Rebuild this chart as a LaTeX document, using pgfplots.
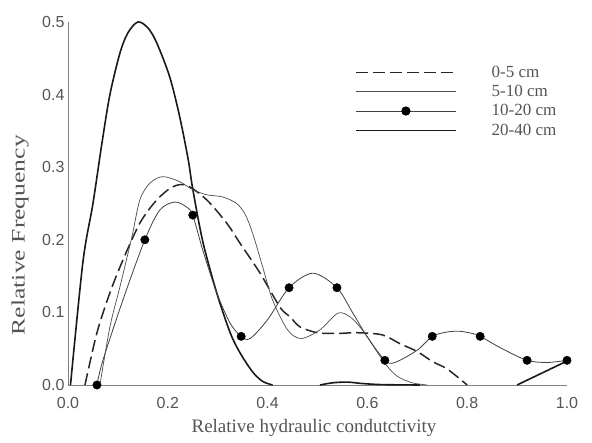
\documentclass[border=0pt]{standalone}
\usepackage{pgfplots}
\pgfplotsset{compat=1.18}
\usepackage{fontspec}
\setmainfont{Liberation Serif}
\newfontfamily\tickfont{Liberation Sans}
\usepackage{graphicx}
\definecolor{txtgray}{HTML}{555555}
\begin{document}
\begin{tikzpicture}
\useasboundingbox (-68pt,-58pt) rectangle (524pt,385pt);
\begin{axis}[
  scale only axis, width=499pt, height=363pt,
  xmin=0, xmax=1, ymin=0, ymax=0.5,
  axis x line=bottom, axis y line=left,
  axis line style={-, draw=gray, line width=0.8pt},
  major tick length=0pt,
  xtick={0,0.2,0.4,0.6,0.8,1.0}, xticklabels={0.0,0.2,0.4,0.6,0.8,1.0},
  ytick={0,0.1,0.2,0.3,0.4,0.5}, yticklabels={0.0,0.1,0.2,0.3,0.4,0.5},
  xticklabel style={font=\tickfont\fontsize{16}{16}\selectfont, text=txtgray, anchor=center, yshift=-18pt},
  yticklabel style={font=\tickfont\fontsize{16}{16}\selectfont, text=txtgray},
  every axis x label/.style={at={(axis description cs:0.493,-0.118)}, anchor=center},
  every axis y label/.style={at={(axis description cs:-0.096,0.413)}, rotate=90, anchor=center},
  xlabel={Relative hydraulic condutctivity},
  ylabel={\scalebox{1.35}[1]{Relative Frequency}},
  label style={font=\fontsize{19}{19}\selectfont, text=txtgray},
  clip=false,
  legend style={at={(axis cs:0.575,0.441)}, anchor=north west, draw=none, fill=none, inner sep=0pt,
    font=\fontsize{17}{17}\selectfont, text=txtgray, row sep=4.5pt, column sep=34pt,
    nodes={inner sep=1pt}},
  legend cell align=left,
  legend image code/.code={\draw[mark repeat=2,mark phase=2,#1] plot coordinates {(0pt,0pt)(50pt,0pt)(100pt,0pt)};},
]
\addlegendimage{black!85, line width=1.5pt, dash pattern=on 12pt off 5pt}
\addlegendentry{0-5 cm}
\addlegendimage{black!70, line width=0.7pt}
\addlegendentry{5-10 cm}
\addlegendimage{black!75, line width=0.8pt, mark=*, mark size=4.2pt, mark options={fill=black, draw=black}}
\addlegendentry{10-20 cm}
\addlegendimage{black!90, line width=1.6pt}
\addlegendentry{20-40 cm}

% 20-40 cm
\addplot[forget plot, black!90, line width=1.6pt, smooth, tension=0.5] coordinates {
(0.005,0)(0.03,0.17)(0.05,0.25)(0.068,0.333)(0.084,0.40)(0.104,0.457)(0.12,0.485)(0.14,0.5)(0.16,0.492)(0.178,0.471)(0.204,0.424)(0.224,0.369)(0.241,0.31)(0.25,0.27)(0.27,0.198)(0.298,0.127)(0.325,0.072)(0.345,0.044)(0.37,0.018)(0.39,0.005)(0.41,0)};
\addplot[forget plot, black!90, line width=1.6pt, smooth, tension=0.5] coordinates {
(0.505,0)(0.53,0.003)(0.56,0.004)(0.59,0.002)(0.63,0.0005)(0.705,0)};
\addplot[forget plot, black!90, line width=1.6pt] coordinates {(0.9,0)(1.0,0.033)};

% 0-5 cm
\addplot[forget plot, black!85, line width=1.5pt, dash pattern=on 12pt off 5pt, smooth, tension=0.5] coordinates {
(0.034,0)(0.058,0.072)(0.084,0.127)(0.11,0.172)(0.144,0.223)(0.178,0.255)(0.21,0.273)(0.238,0.275)(0.278,0.255)(0.318,0.223)(0.345,0.195)(0.385,0.154)(0.425,0.107)(0.445,0.094)(0.465,0.08)(0.5,0.072)(0.54,0.071)(0.58,0.072)(0.63,0.069)(0.665,0.057)(0.7,0.046)(0.731,0.032)(0.76,0.022)(0.8,0.0)};

% 5-10 cm
\addplot[forget plot, black!70, line width=0.7pt, smooth, tension=0.5] coordinates {
(0.064,0)(0.084,0.08)(0.104,0.135)(0.128,0.204)(0.144,0.255)(0.164,0.278)(0.19,0.287)(0.224,0.28)(0.25,0.269)(0.278,0.262)(0.31,0.259)(0.338,0.25)(0.355,0.235)(0.37,0.209)(0.39,0.163)(0.41,0.117)(0.44,0.076)(0.467,0.064)(0.505,0.076)(0.541,0.099)(0.565,0.094)(0.585,0.08)(0.6,0.066)(0.635,0.03)(0.66,0.012)(0.69,0.003)(0.72,0)};

% 10-20 cm line
\addplot[forget plot, black!75, line width=0.8pt, smooth, tension=0.5] coordinates {
(0.058,0)(0.07,0.034)(0.11,0.117)(0.154,0.2)(0.184,0.241)(0.214,0.252)(0.238,0.245)(0.25,0.234)(0.27,0.186)(0.298,0.127)(0.325,0.085)(0.347,0.067)(0.365,0.064)(0.4,0.09)(0.443,0.134)(0.491,0.154)(0.539,0.134)(0.57,0.1)(0.6,0.066)(0.635,0.034)(0.655,0.031)(0.7,0.048)(0.73,0.067)(0.76,0.073)(0.785,0.074)(0.81,0.071)(0.826,0.067)(0.87,0.05)(0.92,0.034)(0.96,0.031)(1.0,0.034)};
% 10-20 cm markers
\addplot[forget plot, only marks, mark=*, mark size=4.2pt, mark options={fill=black, draw=black}] coordinates {
(0.058,0)(0.154,0.2)(0.25,0.234)(0.347,0.067)(0.443,0.134)(0.539,0.134)(0.635,0.034)(0.73,0.067)(0.826,0.067)(0.92,0.034)(1.0,0.034)};
\end{axis}
\end{tikzpicture}
\end{document}
